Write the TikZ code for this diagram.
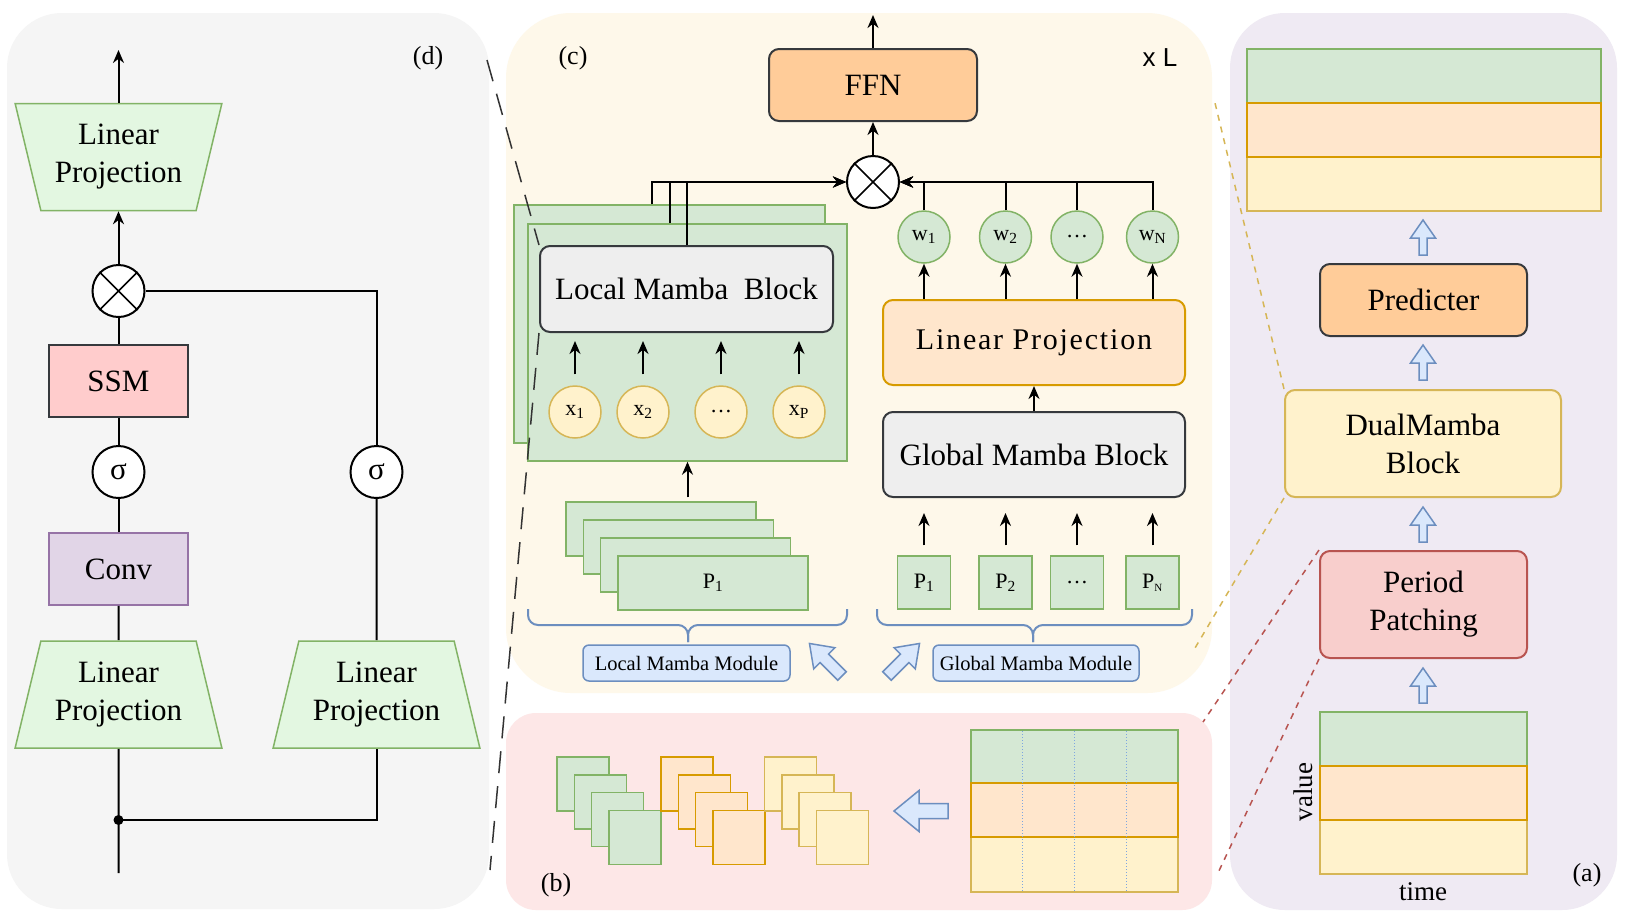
\documentclass[tikz,border=0pt]{standalone}
\usepackage{fontspec}
\setmainfont{Liberation Serif}
\newfontfamily\sansfam{Liberation Sans}
\usepackage{tikz}
\usetikzlibrary{arrows.meta, shapes.geometric}

\definecolor{dbg}{HTML}{F5F5F5}
\definecolor{cbg}{HTML}{FEF8EA}
\definecolor{bbg}{HTML}{FDE7E7}
\definecolor{abg}{HTML}{EFEAF3}
\definecolor{gfill}{HTML}{D5E8D4}
\definecolor{gline}{HTML}{82B366}
\definecolor{ofill}{HTML}{FFE6CC}
\definecolor{oline}{HTML}{D79B00}
\definecolor{yfill}{HTML}{FFF2CC}
\definecolor{yline}{HTML}{D6B656}
\definecolor{rfill}{HTML}{F8CECC}
\definecolor{rline}{HTML}{B85450}
\definecolor{pfill}{HTML}{E1D5E7}
\definecolor{pline}{HTML}{9673A6}
\definecolor{bfill}{HTML}{DAE8FC}
\definecolor{bline}{HTML}{6C8EBF}
\definecolor{kfill}{HTML}{EEEEEE}
\definecolor{kline}{HTML}{36393D}
\definecolor{ffnfill}{HTML}{FFCC99}
\definecolor{lpfill}{HTML}{E3F7E1}
\definecolor{ssmfill}{HTML}{FFCCCC}
\definecolor{gridline}{HTML}{7EA6E0}

\tikzset{
	arr/.style={-{Stealth[length=13pt,width=11pt]}, line width=2pt},
	ln/.style={line width=2pt},
	big/.style={font=\fontsize{31}{38}\selectfont},
	small/.style={font=\fontsize{22}{26}\selectfont},
	trap/.style={trapezium, trapezium stretches=true, trapezium angle=72.5, draw=gline, fill=lpfill, line width=1.5pt, minimum width=207pt, minimum height=107pt, inner sep=2pt, align=center, big},
	sq/.style={rectangle, line width=1.5pt, minimum width=139pt, minimum height=72pt, big},
	circ/.style={circle, draw, fill=white, line width=2pt, minimum size=52pt, inner sep=0pt, big},
	rbox/.style={rectangle, rounded corners=10pt, line width=2pt, inner sep=0pt, align=center, big},
	dot/.style={circle, line width=1.5pt, minimum size=52pt, inner sep=0pt, small},
	sbox/.style={rectangle, draw=gline, fill=gfill, line width=1.5pt, inner sep=0pt, small},
	module/.style={rectangle, rounded corners=6pt, draw=bline, fill=bfill, line width=1.5pt, minimum width=207pt, minimum height=36pt, inner sep=0pt, font=\fontsize{20.5}{24}\selectfont},
	brc/.style={draw=bline, line width=2pt, rounded corners=10pt},
	blk/.style={draw=bline, fill=bfill, line width=1.5pt, line join=miter},
	pics/fatarrow/.style n args={4}{code={
		\draw[blk] (0,#2) -- ({#1-#4},#2) -- ({#1-#4},#3) -- (#1,0) -- ({#1-#4},-#3) -- ({#1-#4},-#2) -- (0,-#2) -- cycle;
	}}
}

\begin{document}
\begin{tikzpicture}[x=1pt, y=-1pt]
			\useasboundingbox (0,0) rectangle (1625,922);
			\fill[white] (0,0) rectangle (1625,922);
			\fill[dbg, rounded corners=55pt] (7,13) rectangle (489,909);
			\fill[cbg, rounded corners=65pt] (506,13) rectangle (1212,693);
			\fill[bbg, rounded corners=30pt] (506,713) rectangle (1212,910);
			\fill[abg, rounded corners=55pt] (1230,13) rectangle (1617,910);
			
			\node[trap, shape border rotate=180] (lpTop) at (118.5,157) {Linear\\Projection};
			\node[circ] (mulD) at (118.5,291) {};
			\draw[line width=1.5pt] (mulD.north east) -- (mulD.south west) (mulD.north west) -- (mulD.south east);
			\node[sq, draw=kline, fill=ssmfill] (ssm) at (118.5,381) {SSM};
			\node[circ] (sigL) at (118.5,472) {σ};
			\node[circ] (sigR) at (376.5,472) {σ};
			\node[sq, draw=pline, fill=pfill] (conv) at (118.5,569) {Conv};
			\node[trap] (lpL) at (118.5,694.5) {Linear\\Projection};
			\node[trap] (lpR) at (376.5,694.5) {Linear\\Projection};
			\coordinate (outD) at (118.5,50);
			\coordinate (inD) at (118.5,873);
			\coordinate (split) at (118.5,820);
			\node[font=\fontsize{26}{30}\selectfont] (tagD) at (428,58) {(d)};
			
			\draw[arr] (lpTop) -- (outD);
			\draw[arr] (mulD) -- (lpTop);
			\draw[ln] (ssm) -- (mulD);
			\draw[ln] (sigL) -- (ssm);
			\draw[ln] (conv) -- (sigL);
			\draw[ln] (lpL) -- (conv);
			\draw[ln] (inD) -- (lpL);
			\draw[ln] (split) -| (lpR);
			\fill (split) circle (5pt);
			\draw[ln] (lpR) -- (sigR);
			\draw[ln] (sigR) |- (mulD);
			
			\node[font=\fontsize{26}{30}\selectfont] (tagC) at (573,58) {(c)};
			\node[font=\sansfam\fontsize{26}{30}\selectfont] (layers) at (1160,58) {x L};
			\node[rbox, draw=kline, fill=ffnfill, minimum width=208pt, minimum height=72pt] (ffn) at (873,85) {FFN};
			\node[circ] (mulC) at (873,182) {};
			\draw[line width=1.5pt] (mulC.north east) -- (mulC.south west) (mulC.north west) -- (mulC.south east);
			\coordinate (outC) at (873,15);
			
			\node[sbox, minimum width=311pt, minimum height=238pt] (back) at (669.5,324) {};
			\node[sbox, minimum width=319pt, minimum height=237pt] (front) at (687.5,342.5) {};
			\node[rbox, draw=kline, fill=kfill, minimum width=293pt, minimum height=86pt] (lmb) at (686.5,289) {Local Mamba~ Block};
			\node[dot, draw=yline, fill=yfill] (x1) at (575,412) {x\textsubscript{1}};
			\node[dot, draw=yline, fill=yfill] (x2) at (643,412) {x\textsubscript{2}};
			\node[dot, draw=yline, fill=yfill] (x3) at (721,412) {…};
			\node[dot, draw=yline, fill=yfill] (x4) at (799,412) {x\textsubscript{P}};
			
			\node[sbox, minimum width=190pt, minimum height=54pt] (pa1) at (661,529) {};
			\node[sbox, minimum width=190pt, minimum height=54pt] (pa2) at (678.3,547) {};
			\node[sbox, minimum width=190pt, minimum height=54pt] (pa3) at (695.6,565) {};
			\node[sbox, minimum width=190pt, minimum height=54pt] (pa4) at (713,583) {P\textsubscript{1}};
			
			\node[rbox, draw=oline, fill=ofill, minimum width=302pt, minimum height=85pt, font=\fontsize{30}{38}\selectfont\addfontfeature{LetterSpace=6}] (lpc) at (1034,342.5) {Linear Projection};
			\node[rbox, draw=kline, fill=kfill, minimum width=302pt, minimum height=85pt] (gmb) at (1034,454.5) {Global Mamba Block};
			\node[dot, draw=gline, fill=gfill] (w1) at (924,237) {w\textsubscript{1}};
			\node[dot, draw=gline, fill=gfill] (w2) at (1005.5,237) {w\textsubscript{2}};
			\node[dot, draw=gline, fill=gfill] (w3) at (1077,237) {…};
			\node[dot, draw=gline, fill=gfill] (w4) at (1152.5,237) {w\textsubscript{N}};
			\node[sbox, minimum size=53pt] (pg1) at (924,582.5) {P\textsubscript{1}};
			\node[sbox, minimum size=53pt] (pg2) at (1005.5,582.5) {P\textsubscript{2}};
			\node[sbox, minimum size=53pt] (pg3) at (1077,582.5) {…};
			\node[sbox, minimum size=53pt] (pg4) at (1152.5,582.5) {P\textsubscript{\fontsize{11}{11}\selectfont N}};
			
			\draw[brc] (528,609) |- (688,625) -- (688,642);
			\draw[brc] (847,609) |- (688,625) -- (688,642);
			\draw[brc] (877,609) |- (1033,625) -- (1033,642);
			\draw[brc] (1192,609) |- (1033,625) -- (1033,642);
			\node[module] (lmm) at (686.5,663) {Local Mamba Module};
			\node[module, minimum width=206pt] (gmm) at (1036,663) {Global Mamba Module};
			\pic[rotate=135] at (842,676) {fatarrow={46}{6}{15}{21}};
			\pic[rotate=45] at (887,676) {fatarrow={46}{6}{15}{21}};
			
			\draw[arr] (ffn) -- (outC);
			\draw[arr] (mulC) -- (ffn);
			\draw[arr] ([xshift=-18pt]back.north) |- (mulC);
			\draw[arr] ([xshift=-18pt]front.north) |- (mulC);
			\draw[arr] (lmb.north) |- (mulC);
			\foreach \i in {1,...,4}
				\draw[arr] (w\i) |- (mulC);
			\foreach \i in {1,...,4}
				\draw[arr] (w\i |- lpc.north) -- (w\i);
			\draw[arr] (gmb) -- (lpc);
			\foreach \i in {1,...,4}
				\draw[arr, shorten <=10pt, shorten >=15pt] (pg\i) -- (pg\i |- gmb.south);
			\foreach \i in {1,...,4}
				\draw[arr, shorten <=11pt, shorten >=8pt] (x\i) -- (x\i |- lmb.south);
			\draw[arr, shorten <=4pt] (front.south |- pa1.north) -- (front.south);
			
			\foreach \fc/\lc/\x in {gfill/gline/557, ofill/oline/661, yfill/yline/764.5}
				\foreach \k in {0,...,3}
					\draw[\lc, fill=\fc, line width=1.5pt] ({\x+17.3*\k},{757+17.8*\k}) rectangle ++(52,54);
			\pic[rotate=180] at (948,811) {fatarrow={54}{7.5}{20.5}{25}};
			\draw[gline, fill=gfill, line width=1.5pt] (971,730) rectangle (1178,783);
			\draw[yline, fill=yfill, line width=1.5pt] (971,837) rectangle (1178,892);
			\draw[oline, fill=ofill, line width=1.5pt] (971,783) rectangle (1178,837);
			\foreach \x in {1022.5,1074.5,1126}
				\draw[gridline, dotted, line width=1pt] (\x,731) -- (\x,891);
			\node[font=\fontsize{26}{30}\selectfont] (tagB) at (556,885) {(b)};
			
			\draw[gline, fill=gfill, line width=1.5pt] (1247,49) rectangle (1601,103);
			\draw[yline, fill=yfill, line width=1.5pt] (1247,157) rectangle (1601,211);
			\draw[oline, fill=ofill, line width=1.5pt] (1247,103) rectangle (1601,157);
			\node[rbox, draw=kline, fill=ffnfill, minimum width=207pt, minimum height=72pt] (pred) at (1423.5,300) {Predicter};
			\node[rbox, draw=yline, fill=yfill, minimum width=276pt, minimum height=107pt] (dual) at (1423,443.5) {DualMamba\\Block};
			\node[rbox, draw=rline, fill=rfill, minimum width=207pt, minimum height=107pt] (pp) at (1423.5,604.5) {Period\\Patching};
			\draw[gline, fill=gfill, line width=1.5pt] (1320,712) rectangle (1527,766);
			\draw[yline, fill=yfill, line width=1.5pt] (1320,820) rectangle (1527,874);
			\draw[oline, fill=ofill, line width=1.5pt] (1320,766) rectangle (1527,820);
			\pic[rotate=90] at (1423,255) {fatarrow={35}{4}{12.5}{18}};
			\pic[rotate=90] at (1423,380) {fatarrow={35}{4}{12.5}{18}};
			\pic[rotate=90] at (1423,542) {fatarrow={35}{4}{12.5}{18}};
			\pic[rotate=90] at (1423,703) {fatarrow={35}{4}{12.5}{18}};
			\node[font=\fontsize{27}{30}\selectfont, rotate=90] (value) at (1303,792) {value};
			\node[font=\fontsize{27}{30}\selectfont] (time) at (1423,892) {time};
			\node[font=\fontsize{26}{30}\selectfont] (tagA) at (1587,875) {(a)};
			
			\coordinate (zd1) at (487,60);
			\coordinate (zd2) at (490,870);
			\coordinate (zc1) at (1215,103);
			\coordinate (zc2) at (1195,648);
			\coordinate (zb1) at (1203,722);
			\coordinate (zb2) at (1217,875);
			\draw[black!80, line width=1.5pt, dash pattern=on 22pt off 13pt] (zd1) -- (lmb.north west);
			\draw[black!80, line width=1.5pt, dash pattern=on 22pt off 13pt] (lmb.south west) -- (zd2);
			\draw[yline, line width=1.5pt, dash pattern=on 6pt off 6pt] (dual.north west) -- (zc1);
			\draw[yline, line width=1.5pt, dash pattern=on 6pt off 6pt] (dual.south west) -- (zc2);
			\draw[rline, line width=1.5pt, dash pattern=on 6pt off 6pt] (pp.north west) -- (zb1);
			\draw[rline, line width=1.5pt, dash pattern=on 6pt off 6pt] (pp.south west) -- (zb2);
			
		\end{tikzpicture}
\end{document}
